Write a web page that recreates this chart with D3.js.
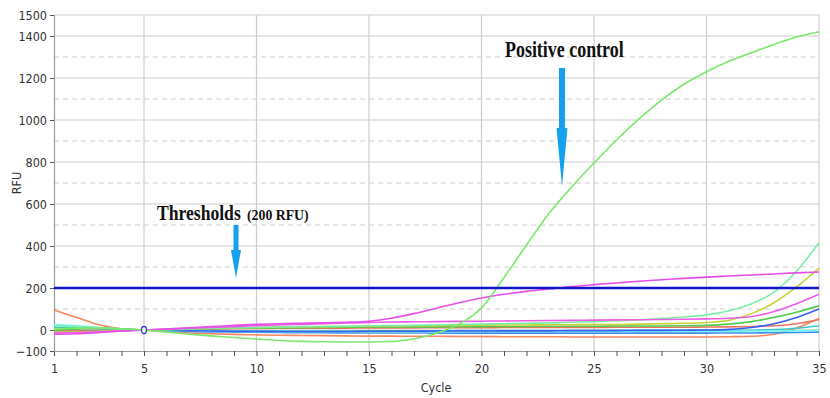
<!DOCTYPE html>
<html>
<head>
<meta charset="utf-8">
<script src="https://cdn.jsdelivr.net/npm/d3@7"></script>
<style>
  html, body { margin: 0; padding: 0; background: #fff; }
  svg { display: block; }
  .tick text { font-family: "Liberation Sans Narrow", "DejaVu Sans Condensed", sans-serif; font-size: 12.5px; fill: #333; }
</style>
</head>
<body>
<svg id="chart" width="830" height="398"></svg>
<script>
const cycles = [1,2,3,4,5,6,7,8,9,10,11,12,13,14,15,16,17,18,19,20,21,22,23,24,25,26,27,28,29,30,31,32,33,34,35];
const yTickValues = [-100, 0, 200, 400, 600, 800, 1000, 1200, 1400, 1500];
const xTickLabels = [1, 5, 10, 15, 20, 25, 30, 35];
const threshold = 200;

// RFU per cycle
const positiveControl = [5,8,10,5,0,-10,-20,-28,-36,-43,-50,-54,-56,-57,-57,-55,-42,-15,28,105,250,405,555,680,795,905,1005,1095,1170,1230,1280,1320,1360,1395,1420];
const magentaHigh = [-20,-18,-12,-5,0,5,10,16,22,27,30,32,34,37,42,56,78,104,130,152,170,184,195,207,216,224,232,239,246,252,257,262,267,272,276];
const magentaLow = [-15,-12,-8,-4,0,4,8,12,16,20,24,27,30,33,36,38,39,40,41,42,43,44,45,46,47,48,49,50,51,53,56,64,88,125,170];
const mint = [20,15,10,5,0,2,5,8,10,12,14,16,17,18,20,21,22,24,26,28,30,32,34,37,40,44,48,54,62,72,92,125,180,280,415];
const yellow = [-10,-8,-5,-2,0,3,6,8,10,12,14,15,16,17,18,19,20,21,22,23,24,24,25,25,26,26,28,30,32,36,46,78,130,205,295];
const green = [0,4,8,6,0,2,4,6,8,9,10,11,12,13,14,14,15,15,16,16,17,17,18,18,18,19,19,19,20,22,28,40,60,85,115];
const blue = [-10,-8,-5,-2,0,-2,-4,-5,-6,-6,-7,-7,-7,-7,-6,-6,-6,-5,-5,-5,-4,-4,-4,-3,-3,-3,-2,-2,-1,0,3,12,30,60,100];
const orange = [95,60,25,6,0,-8,-14,-18,-21,-23,-25,-26,-27,-28,-29,-29,-30,-30,-31,-31,-32,-32,-32,-33,-33,-33,-33,-33,-33,-33,-32,-30,-20,10,55];
const salmon = [-5,-3,0,0,0,2,4,5,6,7,8,8,9,9,10,10,10,11,11,11,12,12,12,12,12,13,13,13,13,14,15,17,20,30,50];
const cyan = [25,20,12,5,0,-3,-5,-6,-7,-7,-8,-8,-8,-8,-8,-8,-8,-8,-8,-7,-7,-7,-7,-7,-7,-7,-6,-6,-6,-6,-6,-5,-5,-4,-2];
const steel = [-12,-10,-6,-3,0,-4,-7,-9,-10,-11,-12,-13,-13,-14,-14,-14,-14,-15,-15,-15,-15,-15,-15,-15,-15,-15,-15,-15,-15,-15,-14,-14,-13,-12,-10];
const teal = [12,10,6,3,0,-2,-3,-4,-5,-5,-5,-5,-5,-5,-4,-4,-4,-4,-3,-3,-3,-3,-3,-3,-3,-2,-2,-2,-2,-2,-2,-1,2,8,20];

const series = [
    { values: orange, color: '#f4875e' },
    { values: salmon, color: '#e9755c' },
    { values: steel, color: '#3c8fe6' },
    { values: teal, color: '#3fc9c4' },
    { values: cyan, color: '#6ff2f0' },
    { values: blue, color: '#3a5ef0' },
    { values: green, color: '#52cc4e' },
    { values: yellow, color: '#c9d23c' },
    { values: mint, color: '#7beea6' },
    { values: magentaLow, color: '#ec5de6' },
    { values: magentaHigh, color: '#e64ee8' },
    { values: positiveControl, color: '#7ae86c' }
];

const svg = d3.select('#chart');
const margin = { top: 15, right: 11, bottom: 47, left: 54 };
const width = 830 - margin.left - margin.right;
const height = 398 - margin.top - margin.bottom;

const x = d3.scaleLinear().domain([1, 35]).range([0, width]);
const y = d3.scaleLinear().domain([-100, 1500]).range([height, 0]);

const g = svg.append('g').attr('transform', `translate(${margin.left},${margin.top})`);

// grid
const solidGrid = [0, 200, 400, 600, 800, 1000, 1200, 1400, 1500];
const dashedGrid = [100, 300, 500, 700, 900, 1100, 1300];
g.selectAll('.hgrid').data(solidGrid).enter().append('line')
    .attr('x1', 0).attr('x2', width)
    .attr('y1', d => y(d)).attr('y2', d => y(d))
    .attr('stroke', '#cdcdcd').attr('stroke-width', 1.2);
g.selectAll('.hdash').data(dashedGrid).enter().append('line')
    .attr('x1', 0).attr('x2', width)
    .attr('y1', d => y(d)).attr('y2', d => y(d))
    .attr('stroke', '#cdcdcd').attr('stroke-width', 1.2)
    .attr('stroke-dasharray', '5,4');
g.selectAll('.vgrid').data([5, 10, 15, 20, 25, 30, 35]).enter().append('line')
    .attr('x1', d => x(d)).attr('x2', d => x(d))
    .attr('y1', 0).attr('y2', height)
    .attr('stroke', '#cdcdcd').attr('stroke-width', 1.2);

// axes
const xAxis = d3.axisBottom(x)
    .tickValues(cycles)
    .tickSize(5)
    .tickFormat(d => xTickLabels.includes(d) ? d : '');
const gx = g.append('g').attr('transform', `translate(0,${height})`).call(xAxis);
gx.selectAll('.tick text').attr('dy', '1.1em');

const yAxis = d3.axisLeft(y).tickValues(yTickValues).tickSize(4).tickFormat(d3.format('d'));
const gy = g.append('g').call(yAxis);

[gx, gy].forEach(a => {
    a.select('.domain').attr('stroke', '#9a9a9a').attr('stroke-width', 1.2);
    a.selectAll('.tick line').attr('stroke', '#555');
});

// axis titles
svg.append('text')
    .attr('transform', `translate(21,${margin.top + y(700)}) rotate(-90)`)
    .attr('text-anchor', 'middle')
    .style('font-family', '"Liberation Sans Narrow", "DejaVu Sans Condensed", sans-serif')
    .style('font-size', '12.5px').attr('fill', '#333')
    .text('RFU');
svg.append('text')
    .attr('x', 436).attr('y', 392)
    .attr('text-anchor', 'middle')
    .style('font-family', '"Liberation Sans Narrow", "DejaVu Sans Condensed", sans-serif')
    .style('font-size', '12.5px').attr('fill', '#333')
    .text('Cycle');

// curves
const line = d3.line()
    .x((d, i) => x(cycles[i]))
    .y(d => y(d))
    .curve(d3.curveMonotoneX);

g.selectAll('.curve').data(series).enter().append('path')
    .attr('d', d => line(d.values))
    .attr('fill', 'none')
    .attr('stroke', d => d.color)
    .attr('stroke-width', 1.6);

// threshold
g.append('line')
    .attr('x1', x(1)).attr('x2', x(35))
    .attr('y1', y(threshold)).attr('y2', y(threshold))
    .attr('stroke', '#1414c8').attr('stroke-width', 2.6);

// marker at cycle 5
g.append('ellipse')
    .attr('cx', x(5)).attr('cy', y(0))
    .attr('rx', 2.5).attr('ry', 3.5)
    .attr('fill', '#fff').attr('stroke', '#2a3ee0').attr('stroke-width', 1.3);

// annotations
const ARROW_COLOUR = '#14a2ee';
const drawArrow = (cx, top, headTop, tip, shaftW, headW) => {
    svg.append('rect')
        .attr('x', cx - shaftW / 2).attr('y', top)
        .attr('width', shaftW).attr('height', headTop - top + 1)
        .attr('fill', ARROW_COLOUR);
    svg.append('path')
        .attr('d', `M${cx - headW / 2},${headTop} L${cx + headW / 2},${headTop} L${cx},${tip} Z`)
        .attr('fill', ARROW_COLOUR);
};
drawArrow(562, 68, 128, 186, 6, 11);
drawArrow(236, 225, 250, 278, 5, 10);

// condensed serif labels, squeezed horizontally like the source image
const addLabel = (label, tx, ty, size, sx) => {
    svg.append('text')
        .attr('transform', `translate(${tx},${ty}) scale(${sx},1)`)
        .style('font-family', '"Liberation Serif", "Times New Roman", serif')
        .style('font-weight', 'bold')
        .style('font-size', `${size}px`)
        .attr('fill', '#111')
        .text(label);
};
addLabel('Positive control', 505, 57, 23, 0.78);
addLabel('Thresholds', 157, 220, 22, 0.8);
addLabel('(200 RFU)', 247, 220, 15, 0.92);
</script>
</body>
</html>
